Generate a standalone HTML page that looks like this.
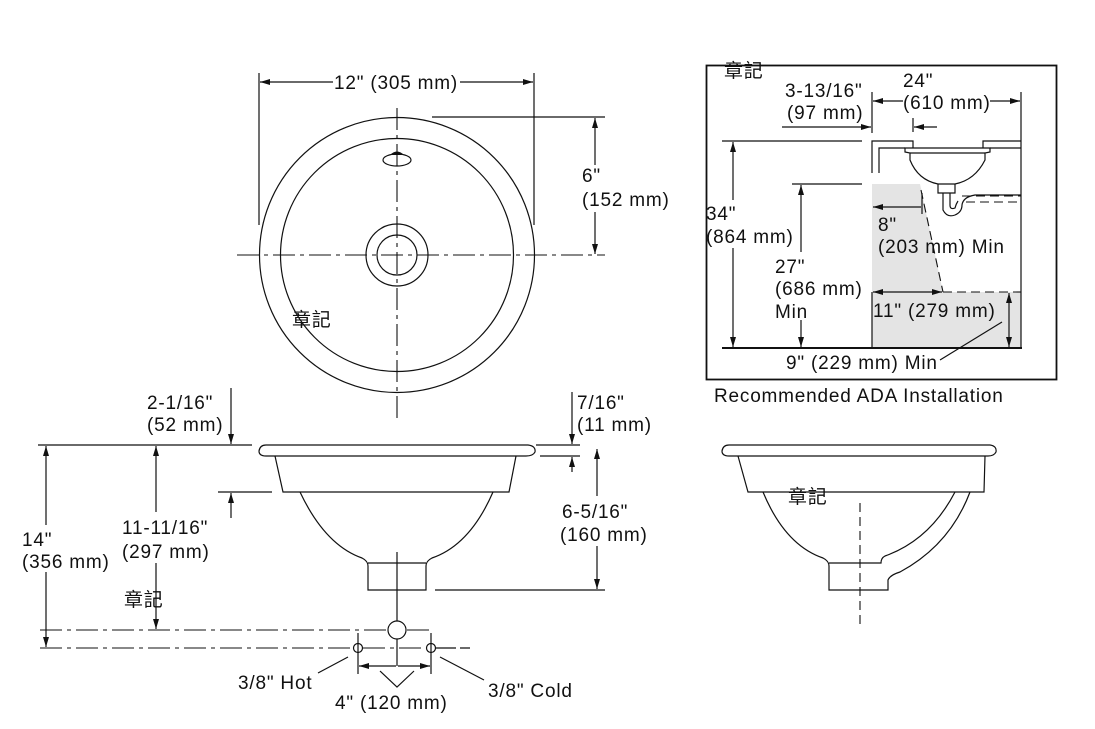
<!DOCTYPE html>
<html><head><meta charset="utf-8"><style>
html,body{margin:0;padding:0;background:#fff;}
svg{display:block;}
text{font-family:"Liberation Sans","Noto Sans CJK TC",sans-serif;font-size:19px;letter-spacing:0.8px;fill:#111;}
.l{stroke:#111;stroke-width:1.2;fill:none;}
.cl{stroke:#111;stroke-width:1.1;fill:none;stroke-dasharray:22,5,4,5;}
.d{stroke:#111;stroke-width:1.1;fill:none;stroke-dasharray:9,5;}
</style></head><body>
<svg width="1095" height="729" viewBox="0 0 1095 729" xmlns="http://www.w3.org/2000/svg">
<defs>
<marker id="a" viewBox="0 0 10 6" refX="10" refY="3" markerWidth="10" markerHeight="6" orient="auto-start-reverse" markerUnits="userSpaceOnUse"><path d="M0,0 L10,3 L0,6z" fill="#111"/></marker>
</defs>

<!-- TOP VIEW -->
<circle class="l" cx="397" cy="255" r="137.5"/>
<circle class="l" cx="397" cy="255" r="116.5"/>
<circle class="l" cx="397" cy="255" r="31"/>
<circle class="l" cx="397" cy="255" r="20"/>
<ellipse class="l" cx="397" cy="160" rx="14" ry="6"/>
<path d="M390,155 Q397,148 404,155z" fill="#111"/>
<line class="cl" x1="237" y1="255" x2="605" y2="255"/>
<line class="cl" x1="397" y1="108" x2="397" y2="418"/>
<line class="l" x1="259" y1="73" x2="259" y2="225"/>
<line class="l" x1="534" y1="73" x2="534" y2="225"/>
<line class="l" x1="260" y1="82" x2="333" y2="82" marker-start="url(#a)"/>
<line class="l" x1="460" y1="82" x2="533" y2="82" marker-end="url(#a)"/>
<text x="334" y="89">12" (305 mm)</text>
<line class="l" x1="432" y1="117" x2="605" y2="117"/>
<line class="l" x1="595" y1="118" x2="595" y2="165" marker-start="url(#a)"/>
<line class="l" x1="595" y1="212" x2="595" y2="254" marker-end="url(#a)"/>
<text x="582" y="182">6"</text>
<text x="582" y="206">(152 mm)</text>
<text x="292" y="326">章記</text>

<!-- FRONT VIEW -->
<path class="l" d="M266,445 H528 Q536,446 535,452 Q533,456 526,456 H266 Q259,456 259,451 Q260,445 266,445z"/>
<path class="l" d="M275,456 L283,492 H509 L516,456"/>
<path class="l" d="M300,492 Q325,545 362,558 Q368,561 368,566 V590 H426 V566 Q426,561 432,558 Q470,545 493,492"/>
<line class="l" x1="368" y1="563" x2="426" y2="563"/>
<line class="l" x1="397" y1="552" x2="397" y2="621"/>
<line class="l" x1="397" y1="639" x2="397" y2="666"/>
<line class="cl" x1="40" y1="630" x2="387" y2="630"/>
<line class="cl" x1="407" y1="630" x2="430" y2="630"/>
<line class="cl" x1="40" y1="648" x2="353" y2="648"/>
<line class="cl" x1="363" y1="648" x2="426" y2="648"/>
<line class="l" x1="436" y1="648" x2="470" y2="648" stroke-dasharray="20,4"/>
<circle class="l" cx="397" cy="630" r="9"/>
<circle class="l" cx="358" cy="648" r="4.5"/>
<circle class="l" cx="431" cy="648" r="4.5"/>
<line class="l" x1="358" y1="633" x2="358" y2="674"/>
<line class="l" x1="431" y1="633" x2="431" y2="674"/>
<line class="l" x1="359" y1="666" x2="396" y2="666" marker-start="url(#a)"/>
<line class="l" x1="398" y1="666" x2="430" y2="666" marker-end="url(#a)"/>
<path class="l" d="M380,671 L397,687 L414,671"/>
<text x="335" y="709">4" (120 mm)</text>
<line class="l" x1="348" y1="657" x2="318" y2="673"/>
<text x="238" y="689">3/8" Hot</text>
<line class="l" x1="440" y1="657" x2="484" y2="680"/>
<text x="488" y="697">3/8" Cold</text>

<line class="l" x1="38" y1="445" x2="252" y2="445"/>
<line class="l" x1="46" y1="446" x2="46" y2="525" marker-start="url(#a)"/>
<line class="l" x1="46" y1="572" x2="46" y2="647" marker-end="url(#a)"/>
<text x="22" y="546">14"</text>
<text x="22" y="568">(356 mm)</text>
<line class="l" x1="156" y1="446" x2="156" y2="512" marker-start="url(#a)"/>
<line class="l" x1="156" y1="563" x2="156" y2="629" marker-end="url(#a)"/>
<text x="122" y="534">11-11/16"</text>
<text x="122" y="558">(297 mm)</text>
<text x="124" y="606">章記</text>
<line class="l" x1="231" y1="388" x2="231" y2="444" marker-end="url(#a)"/>
<line class="l" x1="218" y1="492" x2="272" y2="492"/>
<line class="l" x1="231" y1="518" x2="231" y2="493" marker-end="url(#a)"/>
<text x="147" y="409">2-1/16"</text>
<text x="147" y="431">(52 mm)</text>

<line class="l" x1="536" y1="445" x2="580" y2="445"/>
<line class="l" x1="540" y1="456" x2="580" y2="456"/>
<line class="l" x1="572" y1="392" x2="572" y2="444" marker-end="url(#a)"/>
<line class="l" x1="572" y1="472" x2="572" y2="457" marker-end="url(#a)"/>
<text x="577" y="409">7/16"</text>
<text x="577" y="431">(11 mm)</text>
<line class="l" x1="435" y1="590" x2="605" y2="590"/>
<line class="l" x1="597" y1="449" x2="597" y2="496" marker-start="url(#a)"/>
<line class="l" x1="597" y1="546" x2="597" y2="589" marker-end="url(#a)"/>
<text x="562" y="518">6-5/16"</text>
<text x="560" y="541">(160 mm)</text>

<!-- SIDE VIEW -->
<path class="l" d="M729,445 H990 Q997,446 996,452 Q994,456 988,456 H729 Q722,456 722,451 Q723,445 729,445z"/>
<path class="l" d="M738,456 L748,492 H984 L985,456"/>
<path class="l" d="M763,492 Q785,545 823,558 Q829,561 829,566 V590 H888 V580 Q890,575 900,572 Q950,545 970,492"/>
<path class="l" d="M955,492 Q930,540 885,556 Q881,558 881,563 H829"/>
<line class="d" x1="860" y1="503" x2="860" y2="625"/>
<text x="788" y="503">章記</text>

<!-- ADA BOX -->
<rect x="706.5" y="65.5" width="350" height="314" fill="none" stroke="#111" stroke-width="1.8"/>
<polygon points="872,184 920,184 943,292 1021,292 1021,348 872,348" fill="#e4e4e4"/>
<line class="d" x1="921" y1="190" x2="943" y2="292"/>
<line class="d" x1="943" y1="292" x2="1021" y2="292"/>
<line class="l" x1="872" y1="292" x2="872" y2="348"/>
<line x1="722" y1="348" x2="1022" y2="348" stroke="#111" stroke-width="2"/>
<line class="l" x1="1021" y1="92" x2="1021" y2="348"/>
<line class="l" x1="872" y1="92" x2="872" y2="133"/>
<line class="l" x1="873" y1="101" x2="903" y2="101" marker-start="url(#a)"/>
<line class="l" x1="990" y1="101" x2="1020" y2="101" marker-end="url(#a)"/>
<text x="903" y="87">24"</text>
<text x="903" y="109">(610 mm)</text>
<line class="l" x1="782" y1="127" x2="871" y2="127" marker-end="url(#a)"/>
<line class="l" x1="913" y1="118" x2="913" y2="132"/>
<line class="l" x1="937" y1="127" x2="914" y2="127" marker-end="url(#a)"/>
<text x="785" y="97">3-13/16"</text>
<text x="787" y="119">(97 mm)</text>
<text x="724" y="77">章記</text>
<line class="l" x1="722" y1="141" x2="862" y2="141"/>
<path class="l" d="M872,173 V141 H913 V148 M879,173 V148 H905 M983,148 V141 H1021 M990,148 H1021"/>
<path class="l" d="M905,148 H990 V152 L985,153 V160 Q975,180 955,184 H938 Q918,180 910,160 V153 L905,152z"/>
<line class="l" x1="910" y1="153" x2="985" y2="153"/>
<path class="l" d="M938,184 V193 H955 V184 M943,193 V210 Q947,218 955,215 Q962,212 962,205 Q963,197 975,195 H1021 M950,193 V205 Q950,210 955,208 Q956,204 958,201"/>
<path class="d" d="M962,196 H1021 M966,202 H1021"/>
<line class="l" x1="733" y1="142" x2="733" y2="200" marker-start="url(#a)"/>
<line class="l" x1="733" y1="248" x2="733" y2="347" marker-end="url(#a)"/>
<text x="706" y="220">34"</text>
<text x="706" y="243">(864 mm)</text>
<line class="l" x1="792" y1="184" x2="862" y2="184"/>
<line class="l" x1="801" y1="185" x2="801" y2="252" marker-start="url(#a)"/>
<line class="l" x1="801" y1="320" x2="801" y2="347" marker-end="url(#a)"/>
<text x="775" y="273">27"</text>
<text x="775" y="295">(686 mm)</text>
<text x="775" y="318">Min</text>
<line class="l" x1="873" y1="207" x2="921" y2="207" marker-start="url(#a)"/>
<line class="l" x1="922" y1="193" x2="922" y2="214"/>
<text x="878" y="231">8"</text>
<text x="878" y="253">(203 mm) Min</text>
<line class="l" x1="873" y1="292" x2="942" y2="292" marker-start="url(#a)" marker-end="url(#a)"/>
<text x="873" y="317">11" (279 mm)</text>
<line class="l" x1="1009" y1="293" x2="1009" y2="347" marker-start="url(#a)" marker-end="url(#a)"/>
<line class="l" x1="940" y1="360" x2="1002" y2="322"/>
<text x="786" y="369">9" (229 mm) Min</text>
<text x="714" y="402">Recommended ADA Installation</text>
</svg>
</body></html>
